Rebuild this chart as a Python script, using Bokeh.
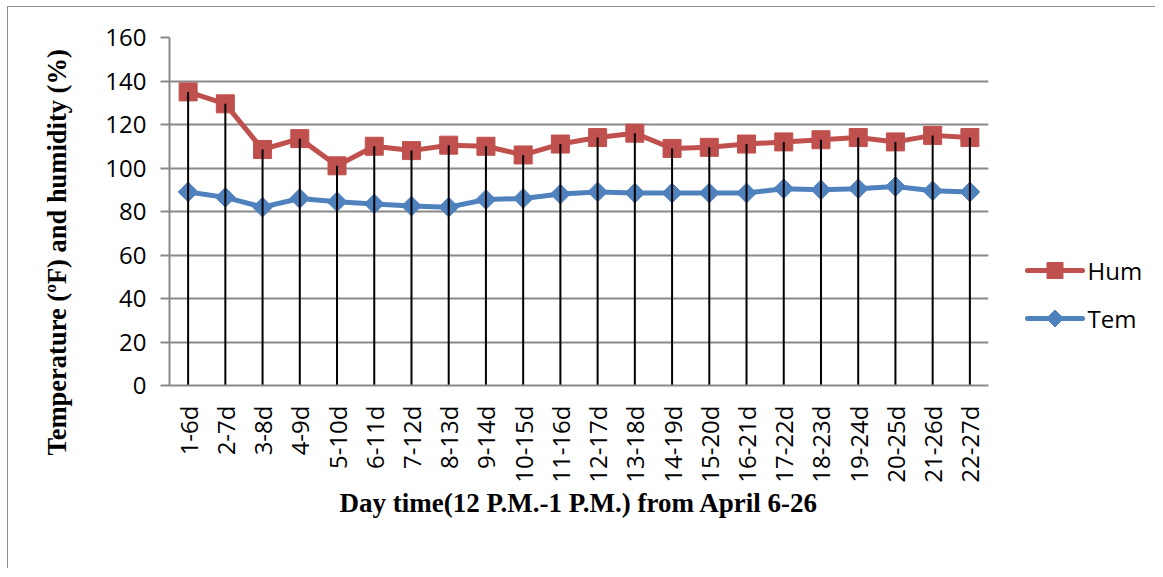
import math
from bokeh.plotting import figure
from bokeh.models import Range1d, FixedTicker, ColumnDataSource, Title
from bokeh.layouts import row
from bokeh.core.properties import value
from bokeh.embed import file_html
from bokeh.resources import INLINE

# ---------------- data ----------------
categories = ["1-6d", "2-7d", "3-8d", "4-9d", "5-10d", "6-11d", "7-12d", "8-13d",
              "9-14d", "10-15d", "11-16d", "12-17d", "13-18d", "14-19d", "15-20d",
              "16-21d", "17-22d", "18-23d", "19-24d", "20-25d", "21-26d", "22-27d"]
hum = [135, 129.5, 108.5, 113.5, 101, 110, 108, 110.5, 110, 106, 111,
       114, 116, 109, 109.5, 111, 112, 113, 114, 112, 115, 114]
tem = [89, 86.5, 82, 86, 84.5, 83.5, 82.5, 82, 85.5, 86, 88,
       89, 88.5, 88.5, 88.5, 88.5, 90.5, 90, 90.5, 91.5, 89.5, 89]
y_ticks = [0, 20, 40, 60, 80, 100, 120, 140, 160]
series_names = ["Hum", "Tem"]
x_title = "Day time(12 P.M.-1 P.M.) from April 6-26"
y_title = "Temperature (\u00baF) and humidity (%)"

HUM_C = "#C0504D"
TEM_C = "#4F81BD"
GRID_C = "#898989"
TICK_FONT = "Open Sans"
TITLE_FONT = "Liberation Serif"
H = 561

xs = list(range(1, len(categories) + 1))
src = ColumnDataSource(dict(x=xs, hum=hum, tem=tem, zero=[0] * len(xs)))

# ---------------- main figure ----------------
p = figure(width=1002, height=H, output_backend="svg", toolbar_location=None,
           x_range=Range1d(0.5, len(categories) + 0.5), y_range=Range1d(0, 160),
           min_border_left=161, min_border_right=22, min_border_top=30,
           min_border_bottom=183)
p.outline_line_color = None

p.xaxis.ticker = FixedTicker(ticks=xs)
p.xaxis.major_label_overrides = {x: c for x, c in zip(xs, categories)}
p.xaxis.major_label_orientation = math.pi / 2
p.xaxis.major_tick_out = 0
p.xaxis.major_tick_in = 0
p.xaxis.minor_tick_out = 0
p.xaxis.minor_tick_in = 0
p.xaxis.axis_line_color = GRID_C
p.xaxis.axis_line_width = 2
p.xaxis.major_label_standoff = 20
p.xaxis.major_label_text_font = TICK_FONT
p.xaxis.major_label_text_font_size = "24px"
p.xaxis.major_label_text_color = "black"
p.xaxis.axis_label = x_title
p.xaxis.axis_label_text_font = TITLE_FONT
p.xaxis.axis_label_text_font_style = "bold"
p.xaxis.axis_label_text_font_size = "27px"
p.xaxis.axis_label_text_color = "black"
p.xaxis.axis_label_standoff = 2

p.yaxis.ticker = FixedTicker(ticks=y_ticks)
p.yaxis.major_tick_out = 9
p.yaxis.major_tick_in = 0
p.yaxis.minor_tick_out = 0
p.yaxis.minor_tick_in = 0
p.yaxis.major_tick_line_color = GRID_C
p.yaxis.major_tick_line_width = 2
p.yaxis.axis_line_color = GRID_C
p.yaxis.axis_line_width = 2
p.yaxis.major_label_standoff = 14
p.yaxis.major_label_text_font = TICK_FONT
p.yaxis.major_label_text_font_size = "24px"
p.yaxis.major_label_text_color = "black"

p.xgrid.grid_line_color = None
p.ygrid.ticker = FixedTicker(ticks=y_ticks)
p.ygrid.grid_line_color = GRID_C
p.ygrid.grid_line_width = 2

# y-axis title as a left-side title, shifted down like the reference
p.add_layout(Title(text=y_title, align="left", offset=-70, vertical_align="middle",
                   standoff=60, text_font=TITLE_FONT, text_font_style="bold",
                   text_font_size="26.5px", text_color="black"), "left")

p.line("x", "hum", source=src, line_color=HUM_C, line_width=5)
p.scatter("x", "hum", source=src, marker="square", size=18,
          fill_color=HUM_C, line_color=HUM_C)
p.line("x", "tem", source=src, line_color=TEM_C, line_width=5)
p.scatter("x", "tem", source=src, marker="square", size=14, angle=math.pi / 4,
          fill_color=TEM_C, line_color=TEM_C)

# drop lines
p.segment(x0="x", y0="zero", x1="x", y1="hum", source=src,
          line_color="black", line_width=2)

# ---------------- legend panel (frame aligned with the main frame) ----------------
lg = figure(width=145, height=H, output_backend="svg", toolbar_location=None,
            x_range=Range1d(1010, 1155), y_range=Range1d(385, 37),
            min_border_left=0, min_border_right=0, min_border_top=30,
            min_border_bottom=183, x_axis_location=None, y_axis_location=None)
lg.outline_line_color = None
lg.xgrid.visible = False
lg.ygrid.visible = False

leg_y = [270, 318]
leg_colors = [HUM_C, TEM_C]
for name, yy, col in zip(series_names, leg_y, leg_colors):
    lg.line([1027, 1082], [yy, yy], line_color=col, line_width=5, line_cap="round")
    lg.text([1087], [yy], text=[name], text_font=value(TICK_FONT),
            text_font_size="24px", text_baseline="middle", text_align="left",
            text_color="black")
lg.scatter([1054.5], [leg_y[0]], marker="square", size=16, fill_color=HUM_C, line_color=HUM_C)
lg.scatter([1054.5], [leg_y[1]], marker="square", size=12, angle=math.pi / 4,
           fill_color=TEM_C, line_color=TEM_C)

layout = row(p, lg, styles={"margin-left": "7px", "margin-top": "6px",
                            "border-left": "1px solid #8c8c8c",
                            "border-top": "1px solid #8c8c8c"})

open("out.html", "w").write(file_html(layout, INLINE))
